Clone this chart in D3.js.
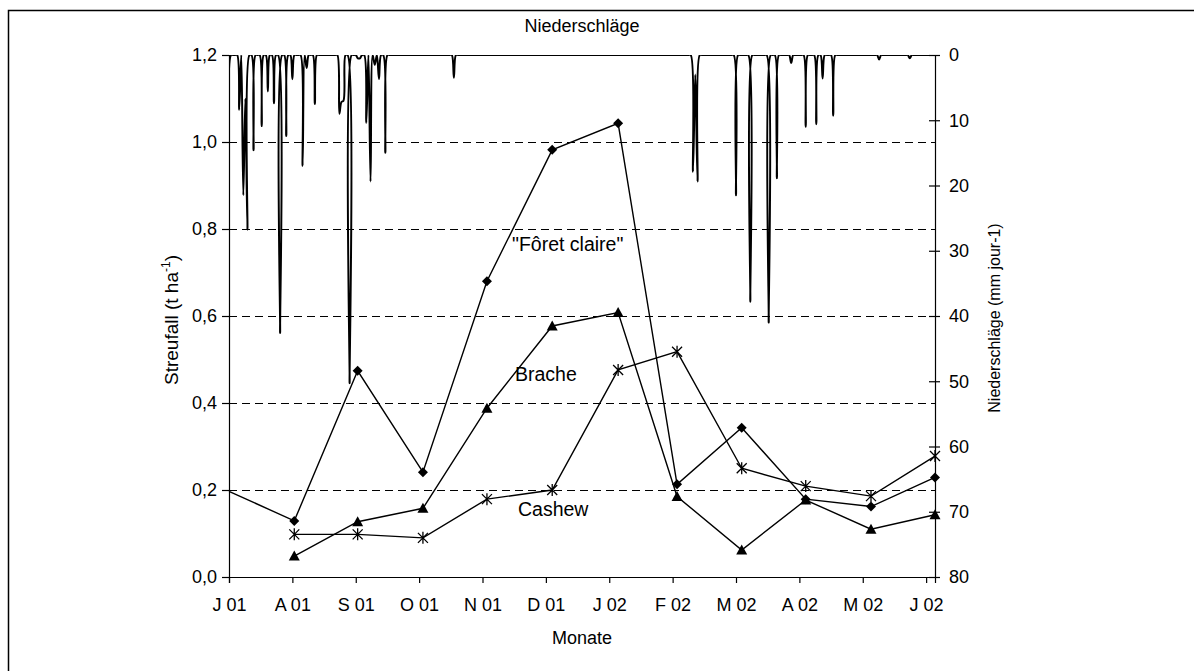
<!DOCTYPE html>
<html>
<head>
<meta charset="utf-8">
<script src="https://cdn.jsdelivr.net/npm/d3@7"></script>
<style>
    body { margin: 0; background: #fff; }
    svg text { font-family: "Liberation Sans", Arial, sans-serif; fill: #000; }
    .axis path, .axis line { stroke: #000; stroke-width: 1.2px; }
    .axis text { font-size: 18px; }
    .grid { stroke: #000; stroke-width: 1px; stroke-dasharray: 8,5; shape-rendering: crispEdges; }
    .serie { fill: none; stroke: #000; stroke-width: 1.4px; }
    .rain { fill: none; stroke: #000; stroke-width: 2px; }
</style>
</head>
<body>
<script>

    // month categories (tick labels)
    var months = ["J 01", "A 01", "S 01", "O 01", "N 01", "D 01", "J 02", "F 02", "M 02", "A 02", "M 02", "J 02"];

    // sample positions in months from J 01
    var sampleFc = [0, 1.03, 2.03, 3.06, 4.07, 5.10, 6.14, 7.07, 8.09, 9.10, 10.13, 11.14];
    var sample = [1.03, 2.03, 3.06, 4.07, 5.10, 6.14, 7.07, 8.09, 9.10, 10.13, 11.14];

    // litter fall (t ha-1)
    var foretClaire = [0.197, 0.129, 0.474, 0.241, 0.680, 0.982, 1.043, 0.213, 0.343, 0.179, 0.162, 0.229];
    var brache = [0.048, 0.127, 0.158, 0.388, 0.577, 0.608, 0.185, 0.062, 0.177, 0.110, 0.143];
    var cashew = [0.098, 0.098, 0.090, 0.179, 0.200, 0.476, 0.518, 0.250, 0.209, 0.186, 0.278];

    // rain days (mm jour-1), all other days 0
    var rainDates = ["2001-07-01", "2001-07-06", "2001-07-08", "2001-07-09", "2001-07-10", "2001-07-13",
        "2001-07-17", "2001-07-20", "2001-07-23", "2001-07-26", "2001-07-29", "2001-08-01",
        "2001-08-06", "2001-08-08", "2001-08-12", "2001-08-24", "2001-08-25", "2001-08-26",
        "2001-08-29", "2001-09-02", "2001-09-03", "2001-09-06", "2001-09-08", "2001-09-10",
        "2001-09-12", "2001-09-15", "2001-10-18",
        "2002-02-10", "2002-02-11", "2002-02-12", "2002-03-01", "2002-03-08", "2002-03-17",
        "2002-03-21", "2002-03-28", "2002-04-04", "2002-04-09", "2002-04-12", "2002-04-17",
        "2002-05-09", "2002-05-24"];
    var rainMm = [16.6, 8.4, 21.5, 6.7, 26.8, 14.6,
        10.9, 5.6, 7.4, 42.6, 12.4, 3.7,
        17.0, 2.0, 7.5, 9.0, 7.2, 7.0,
        50.3, 0.5, 0.5, 10.4, 19.4, 1.5,
        3.7, 15.0, 3.5,
        17.9, 3.0, 19.4, 21.5, 37.8, 41.0,
        18.9, 1.2, 11.0, 10.6, 3.6, 9.3,
        0.7, 0.5];

    var width = 1194, height = 671;
    var mLeft = 229, mRight = 935, mTop = 55, mBottom = 577;

    var svg = d3.select("body").append("svg")
        .attr("width", width)
        .attr("height", height);

    // frame
    svg.append("rect")
        .attr("x", 8.5).attr("y", 10.5)
        .attr("width", 1200).attr("height", 700)
        .attr("fill", "none").attr("stroke", "#000").attr("stroke-width", 1.5);

    var x = d3.scaleLinear().domain([0, 11.14]).range([mLeft, mRight]);
    var yL = d3.scaleLinear().domain([0, 1.2]).range([mBottom, mTop]);
    var yR = d3.scaleLinear().domain([0, 80]).range([mTop, mBottom]);

    svg.append("clipPath").attr("id", "plot")
        .append("rect")
        .attr("x", mLeft).attr("y", mTop)
        .attr("width", mRight - mLeft).attr("height", mBottom - mTop);

    // grid
    svg.selectAll("line.grid")
        .data([0.2, 0.4, 0.6, 0.8, 1.0])
        .enter().append("line")
        .attr("class", "grid")
        .attr("x1", mLeft).attr("x2", mRight)
        .attr("y1", function (d) { return yL(d); })
        .attr("y2", function (d) { return yL(d); });

    // daily rain series
    var byDay = {};
    rainDates.forEach(function (d, i) { byDay[d] = rainMm[i]; });
    var fmt = d3.timeFormat("%Y-%m-%d");
    var start = new Date(2001, 6, 1);
    var days = d3.timeDay.range(start, new Date(2002, 6, 6));
    var rain = days.map(function (d) {
        var m = (d.getFullYear() - 2001) * 12 + d.getMonth() - 6;
        var len = new Date(d.getFullYear(), d.getMonth() + 1, 0).getDate();
        return [m + (d.getDate() - 1) / len, byDay[fmt(d)] || 0];
    });

    svg.append("path")
        .attr("class", "rain")
        .attr("clip-path", "url(#plot)")
        .datum(rain)
        .attr("d", d3.line()
            .x(function (d) { return x(d[0]); })
            .y(function (d) { return yR(d[1]); })
            .curve(d3.curveCatmullRom.alpha(0.5)));

    // axes
    var fmtComma = function (d) { return d.toFixed(1).replace(".", ","); };

    svg.append("g")
        .attr("class", "axis")
        .attr("transform", "translate(" + mLeft + ",0)")
        .call(d3.axisLeft(yL).tickValues([0, 0.2, 0.4, 0.6, 0.8, 1.0, 1.2])
            .tickFormat(fmtComma).tickSizeOuter(0).tickSize(7).tickPadding(5));

    var gR = svg.append("g")
        .attr("class", "axis")
        .attr("transform", "translate(" + mRight + ",0)")
        .call(d3.axisRight(yR).tickValues(d3.range(0, 81, 10))
            .tickSizeOuter(0).tickSize(5).tickPadding(9));
    gR.selectAll(".tick line").attr("x1", -6);

    svg.append("g")
        .attr("class", "axis")
        .attr("transform", "translate(0," + mBottom + ")")
        .call(d3.axisBottom(x).tickValues(d3.range(0, 12))
            .tickFormat(function (d) { return months[d]; })
            .tickSizeOuter(0).tickSize(6).tickPadding(15));

    svg.selectAll(".axis .domain").attr("stroke-width", 1.4);

    // series
    function drawLine(pos, vals) {
        svg.append("path")
            .attr("class", "serie")
            .datum(vals)
            .attr("d", d3.line()
                .x(function (d, i) { return x(pos[i]); })
                .y(function (d) { return yL(d); }));
    }
    drawLine(sampleFc, foretClaire);
    drawLine(sample, brache);
    drawLine(sample, cashew);

    // markers
    svg.selectAll("path.diamond")
        .data(foretClaire.slice(1))
        .enter().append("path")
        .attr("class", "diamond")
        .attr("d", "M0,-5L5,0L0,5L-5,0Z")
        .attr("transform", function (d, i) { return "translate(" + x(sample[i]) + "," + yL(d) + ")"; });

    svg.selectAll("path.tri")
        .data(brache)
        .enter().append("path")
        .attr("class", "tri")
        .attr("d", "M0,-5.5L5.5,4.5L-5.5,4.5Z")
        .attr("transform", function (d, i) { return "translate(" + x(sample[i]) + "," + yL(d) + ")"; });

    svg.selectAll("path.star")
        .data(cashew)
        .enter().append("path")
        .attr("class", "star")
        .attr("d", "M-5,-5L5,5M-5,5L5,-5M0,-6L0,6")
        .attr("stroke", "#000").attr("stroke-width", 1.3)
        .attr("transform", function (d, i) { return "translate(" + x(sample[i]) + "," + yL(d) + ")"; });

    // labels
    svg.append("text").attr("x", 582).attr("y", 32).attr("text-anchor", "middle")
        .style("font-size", "18px").text("Niederschläge");
    svg.append("text").attr("x", 582).attr("y", 644).attr("text-anchor", "middle")
        .style("font-size", "18px").text("Monate");

    var yl = svg.append("text")
        .attr("transform", "translate(178,320) rotate(-90)")
        .attr("text-anchor", "middle")
        .style("font-size", "19px");
    yl.append("tspan").text("Streufall (t ha");
    yl.append("tspan").attr("dy", -8).style("font-size", "12px").text("-1");
    yl.append("tspan").attr("dy", 8).text(")");

    svg.append("text")
        .attr("transform", "translate(1000,318) rotate(-90)")
        .attr("text-anchor", "middle")
        .style("font-size", "16px")
        .text("Niederschläge (mm jour-1)");

    svg.append("text").attr("x", 512).attr("y", 251).style("font-size", "19.5px").text("\"Fôret claire\"");
    svg.append("text").attr("x", 515).attr("y", 381).style("font-size", "19.5px").text("Brache");
    svg.append("text").attr("x", 518).attr("y", 516).style("font-size", "19.5px").text("Cashew");

</script>
</body>
</html>
